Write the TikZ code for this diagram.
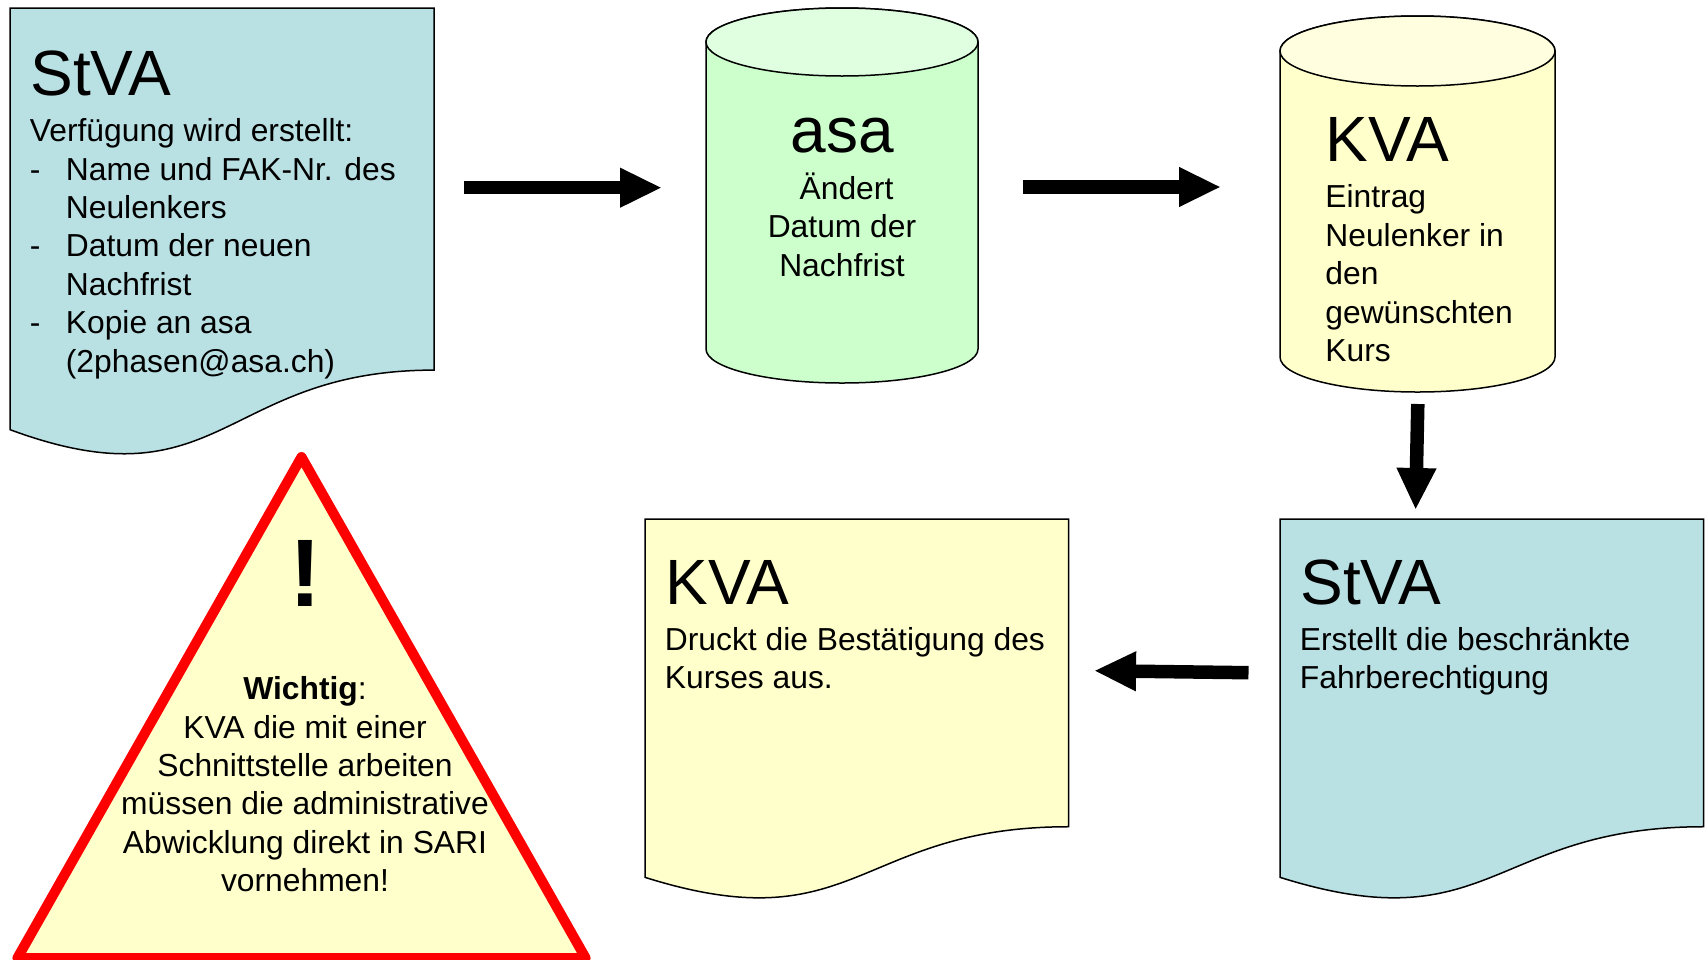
\documentclass[tikz,border=0pt]{standalone}
\usepackage{fontspec}
\setmainfont{Liberation Sans}
\usetikzlibrary{arrows.meta}
\definecolor{docblue}{HTML}{B9E0E3}
\definecolor{cylgreen}{HTML}{CCFFCC}
\definecolor{lidgreen}{HTML}{E0FFE0}
\definecolor{noteyellow}{HTML}{FFFFCC}
\definecolor{lidyellow}{HTML}{FFFFE0}
\tikzset{
  outline/.style={draw=black,line width=.75pt},
  titletext/.style={anchor=base west,inner sep=0pt,font=\fontsize{32}{38}\selectfont},
  bodytext/.style={anchor=north west,inner sep=0pt,align=left,font=\fontsize{15.9}{19.2}\selectfont},
  midtext/.style={anchor=north,inner sep=0pt,align=center,font=\fontsize{15.9}{19.2}\selectfont},
  blockarrow/.style={draw=black,line width=6.75pt,-{Triangle[length=21pt,width=18.4pt]}},
  warnframe/.style={draw=red,line width=5pt,line join=round,fill=noteyellow},
}
\newcommand{\docshape}[5]{%
  \draw[outline,fill=#5] (#1,#2) -- ({#1+#3},#2) -- ({#1+#3},{#2+.802*#4})
    .. controls ({#1+.5*#3},{#2+.802*#4}) and ({#1+.5*#3},{#2+1.1075*#4}) .. (#1,{#2+.9339*#4}) -- cycle;}
\newcommand{\cylshape}[8]{%
  \draw[outline,fill=#7] ({#1-#2},#3) -- ({#1-#2},#4)
    arc[start angle=180,end angle=360,x radius={#2*.5pt},y radius={#5*.5pt}]
    -- ({#1+#2},#3)
    arc[start angle=0,end angle=180,x radius={#2*.5pt},y radius={#5*.5pt}] -- cycle;
  \draw[outline,fill=#8] (#1,#3) ellipse[x radius={#2*.5pt},y radius={#5*.5pt}];}
\newcommand{\fl}{\rule{0pt}{14pt}}
\newcommand{\dashitem}{\makebox[18pt][l]{-}}
\newcommand{\contitem}{\hspace*{18pt}}
\begin{document}
\begin{tikzpicture}[x=.5pt,y=-.5pt]
\clip (0,0) rectangle (1706,959);
\fill[white] (0,0) rectangle (1706,959);
% shapes
\docshape{10}{8}{424}{451.5}{docblue}
\cylshape{842}{136}{42}{349}{34}{}{cylgreen}{lidgreen}
\cylshape{1417.5}{137.5}{51}{357}{35}{}{noteyellow}{lidyellow}
\docshape{645}{519}{423.5}{383.7}{noteyellow}
\docshape{1280}{519}{423.5}{383.7}{docblue}
\draw[warnframe] (301.5,457) -- (585.6,958) -- (17.4,958) -- cycle;
% texts
\node[titletext] (t1) at (30,95) {StVA};
\node[bodytext] (b1) at (29.5,113.2) {\fl Verfügung wird erstellt:\\
  \dashitem Name und FAK-Nr. des\\ \contitem Neulenkers\\
  \dashitem Datum der neuen\\ \contitem Nachfrist\\
  \dashitem Kopie an asa\\ \contitem (2phasen@asa.ch)};
\node[titletext,anchor=base] (t2) at (842,152.7) {asa};
\node[midtext] (b2) at (842,171) {\fl\hspace*{4.5pt}Ändert\\ Datum der\\ Nachfrist};
\node[titletext] (t3) at (1325,161) {KVA};
\node[bodytext] (b3) at (1325,179.5) {\fl Eintrag\\ Neulenker in\\ den\\ gewünschten\\ Kurs};
\node[titletext] (t4) at (665,604) {KVA};
\node[bodytext] (b4) at (664.5,622) {\fl Druckt die Bestätigung des\\ Kurses aus.};
\node[titletext] (t5) at (1300,604) {StVA};
\node[bodytext] (b5) at (1299.5,622) {\fl Erstellt die beschränkte\\ Fahrberechtigung};
\node[anchor=base,inner sep=0pt,font=\fontsize{48}{58}\selectfont\bfseries] (ex) at (305,606) {!};
\node[midtext] (b6) at (305,671.3) {\fl\textbf{Wichtig}:\\ KVA die mit einer\\ Schnittstelle arbeiten\\ müssen die administrative\\ Abwicklung direkt in SARI\\ vornehmen!};
% connectors
\coordinate (a1s) at (464,187.7); \coordinate (a1e) at (662,187.7);
\coordinate (a2s) at (1022.7,187); \coordinate (a2e) at (1221,187);
\coordinate (a3s) at (1417.8,404); \coordinate (a3e) at (1415.6,510);
\coordinate (a4s) at (1248.5,672.7); \coordinate (a4e) at (1094,670.7);
\draw[blockarrow] (a1s) -- (a1e);
\draw[blockarrow] (a2s) -- (a2e);
\draw[blockarrow] (a3s) -- (a3e);
\draw[blockarrow] (a4s) -- (a4e);
\end{tikzpicture}
\end{document}
